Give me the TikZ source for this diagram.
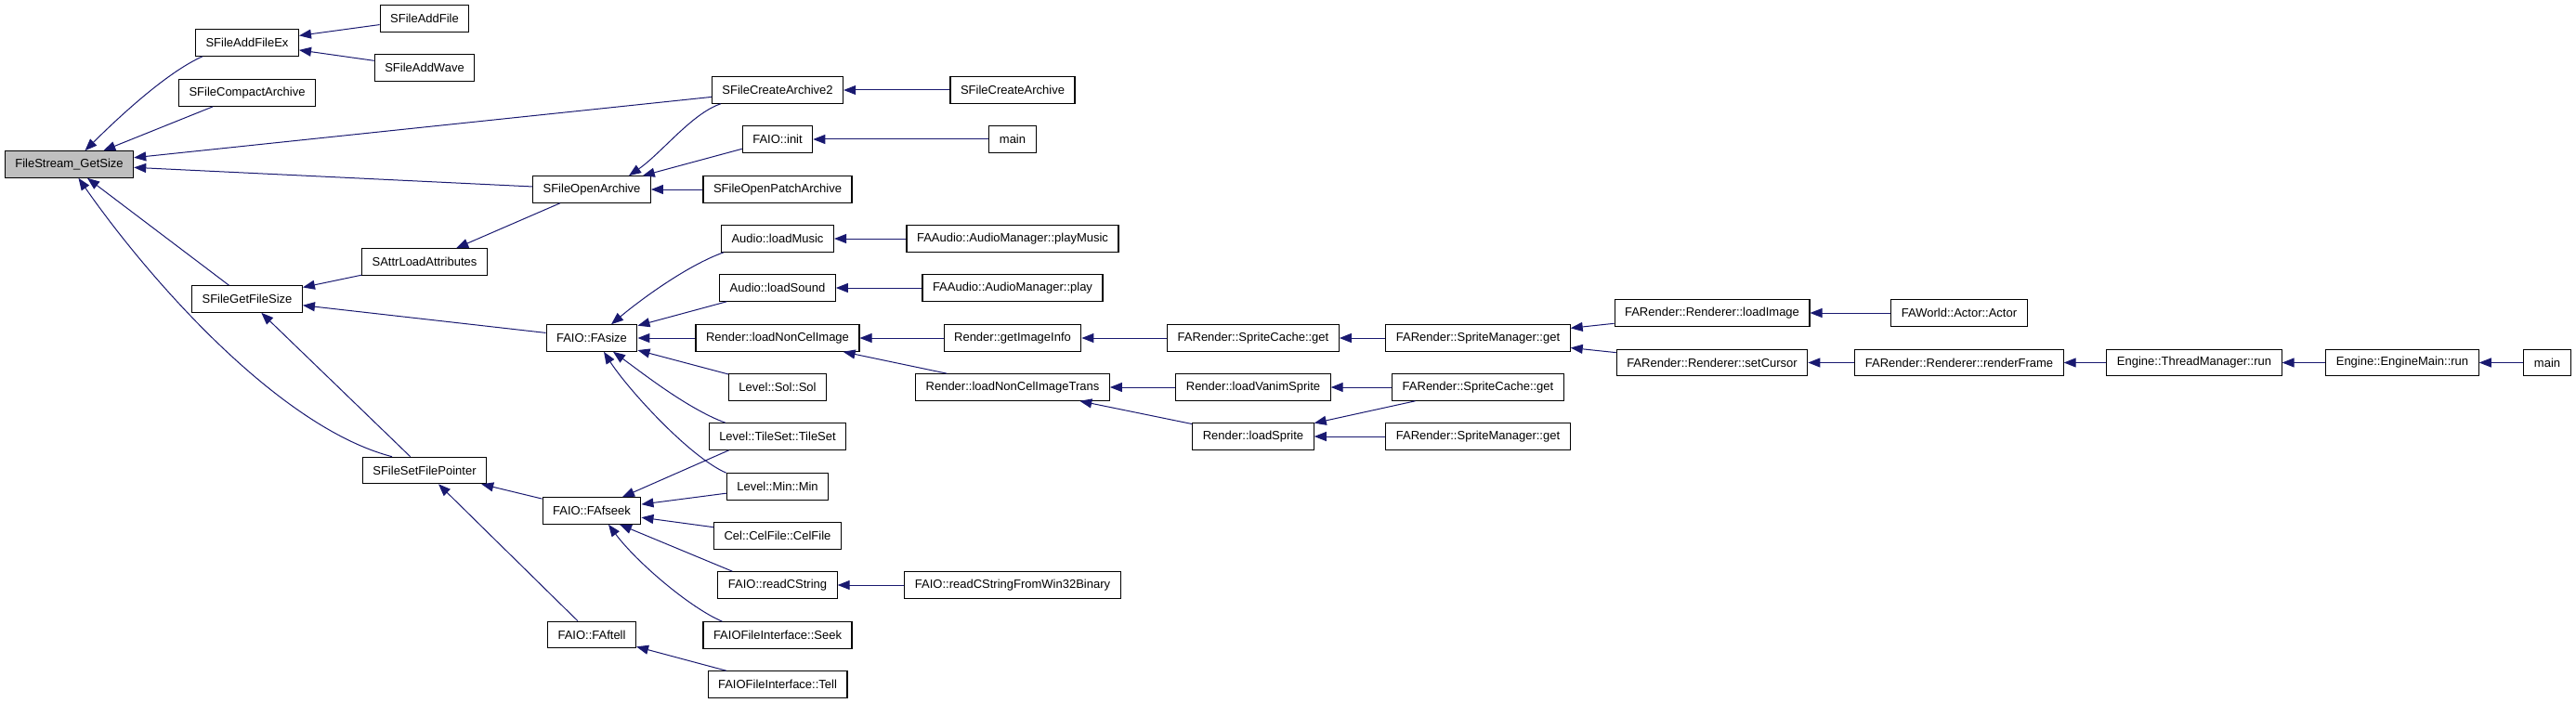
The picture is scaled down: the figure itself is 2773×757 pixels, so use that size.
\documentclass[tikz,border=0pt]{standalone}
\usepackage{fontspec}
\setmainfont{Liberation Sans}
\usetikzlibrary{arrows.meta}
\definecolor{edgeblue}{HTML}{191970}
\definecolor{rootgray}{HTML}{BFBFBF}

\begin{document}
\begin{tikzpicture}[
  x=1pt, y=-1pt,
  fn/.style={rectangle, draw=black, line width=1.1pt, fill=white, inner xsep=11pt, inner ysep=0pt,
             minimum height=28.5pt, font=\fontsize{13}{15}\selectfont},
  root/.style={fn, fill=rootgray},
  link/.style={->, draw=edgeblue, line width=1pt},
  >={Triangle[length=13pt,width=10pt]}
]
\useasboundingbox (0,0) rectangle (2773,757);

% Root
\node[root] (fs) at (74.5,177) {FileStream\_GetSize};

% Column 1
\node[fn] (addex) at (266,46) {SFileAddFileEx};
\node[fn] (compact) at (266,100) {SFileCompactArchive};
\node[fn] (getsize) at (266,322) {SFileGetFileSize};

% Column 2
\node[fn] (addfile) at (457,20) {SFileAddFile};
\node[fn] (addwave) at (457,73) {SFileAddWave};
\node[fn] (attr) at (457,282) {SAttrLoadAttributes};
\node[fn] (sfp) at (457,506.5) {SFileSetFilePointer};

% Column 3
\node[fn] (opa) at (637,204) {SFileOpenArchive};
\node[fn] (fasize) at (637,364) {FAIO::FAsize};
\node[fn] (fafseek) at (637,550) {FAIO::FAfseek};
\node[fn] (faftell) at (637,683.5) {FAIO::FAftell};

% Column 4
\node[fn] (ca2) at (837,97) {SFileCreateArchive2};
\node[fn] (init) at (837,150) {FAIO::init};
\node[fn] (patch) at (837,204) {SFileOpenPatchArchive};
\node[fn] (lmusic) at (837,257) {Audio::loadMusic};
\node[fn] (lsound) at (837,310) {Audio::loadSound};
\node[fn] (lnci) at (837,364) {Render::loadNonCelImage};
\node[fn] (sol) at (837,417) {Level::Sol::Sol};
\node[fn] (tileset) at (837,470) {Level::TileSet::TileSet};
\node[fn] (min) at (837,524) {Level::Min::Min};
\node[fn] (celfile) at (837,577) {Cel::CelFile::CelFile};
\node[fn] (readcs) at (837,630) {FAIO::readCString};
\node[fn] (seek) at (837,684) {FAIOFileInterface::Seek};
\node[fn] (tell) at (837,737) {FAIOFileInterface::Tell};

% Column 5
\node[fn] (ca) at (1090,97) {SFileCreateArchive};
\node[fn] (main1) at (1090,150) {main};
\node[fn] (playmusic) at (1090,257) {FAAudio::AudioManager::playMusic};
\node[fn] (play) at (1090,310) {FAAudio::AudioManager::play};
\node[fn] (imginfo) at (1090,364) {Render::getImageInfo};
\node[fn] (lncit) at (1090,417) {Render::loadNonCelImageTrans};
\node[fn] (readw32) at (1090,630) {FAIO::readCStringFromWin32Binary};

% Columns 6 and 7
\node[fn] (scget1) at (1349,364) {FARender::SpriteCache::get};
\node[fn] (vanim) at (1349,417) {Render::loadVanimSprite};
\node[fn] (lsprite) at (1349,470) {Render::loadSprite};
\node[fn] (smget1) at (1591,364) {FARender::SpriteManager::get};
\node[fn] (scget2) at (1591,417) {FARender::SpriteCache::get};
\node[fn] (smget2) at (1591,470) {FARender::SpriteManager::get};

% Render chain
\node[fn] (loadimg) at (1843,337) {FARender::Renderer::loadImage};
\node[fn] (cursor) at (1843,390.5) {FARender::Renderer::setCursor};
\node[fn] (actor) at (2109,337) {FAWorld::Actor::Actor};
\node[fn] (frame) at (2109,390.5) {FARender::Renderer::renderFrame};
\node[fn] (thread) at (2362,390.5) {Engine::ThreadManager::run};
\node[fn] (engmain) at (2586,390.5) {Engine::EngineMain::run};
\node[fn] (main2) at (2742,390.5) {main};

% Callers of FileStream_GetSize
\draw[link] ([xshift=8pt]addex.south west) .. controls (179,78) and (126,128) .. ([xshift=17pt]fs.north);
\draw[link] (compact) -- (fs);
\draw[link] (ca2) -- (fs);
\draw[link] (opa) -- (fs);
\draw[link] (getsize) -- (fs);
\draw[link] ([xshift=-35pt]sfp.north) .. controls (300,460) and (160,300) .. ([xshift=10pt]fs.south);

% Column 1 and 2
\draw[link] (addfile) -- (addex);
\draw[link] (addwave) -- (addex);
\draw[link] (attr) -- (getsize);
\draw[link] (fasize) -- (getsize);
\draw[link] (sfp) -- (getsize);
\draw[link] (opa) -- (attr);
\draw[link] (fafseek) -- (sfp);
\draw[link] (faftell) -- (sfp);

% SFileOpenArchive
\draw[link] ([xshift=10pt]ca2.south west) .. controls (745,122) and (712,165) .. ([xshift=40pt]opa.north);
\draw[link] (init) -- (opa);
\draw[link] (patch) -- (opa);

% FAIO::FAsize
\draw[link] ([xshift=3pt]lmusic.south west) .. controls (739,286) and (688,324) .. ([xshift=21pt]fasize.north);
\draw[link] (lsound) -- (fasize);
\draw[link] (lnci) -- (fasize);
\draw[link] (sol) -- (fasize);
\draw[link] ([xshift=18pt]tileset.north west) .. controls (740,440) and (692,402) .. ([xshift=23pt]fasize.south);
\draw[link] (min.north west) .. controls (742,492) and (675,418) .. ([xshift=13pt]fasize.south);

% FAIO::FAfseek and FAIO::FAftell
\draw[link] ([xshift=22pt]tileset.south west) -- ([xshift=33pt]fafseek.north);
\draw[link] (min) -- (fafseek);
\draw[link] (celfile) -- (fafseek);
\draw[link] ([xshift=16pt]readcs.north west) -- ([xshift=30pt]fafseek.south);
\draw[link] ([xshift=21pt]seek.north west) .. controls (742,654) and (685,605) .. ([xshift=18pt]fafseek.south);
\draw[link] (tell) -- (faftell);

% Column 4 callers
\draw[link] (ca) -- (ca2);
\draw[link] (main1) -- (init);
\draw[link] (playmusic) -- (lmusic);
\draw[link] (play) -- (lsound);
\draw[link] (imginfo) -- (lnci);
\draw[link] (lncit) -- (lnci);
\draw[link] (readw32) -- (readcs);

% Sprite loading
\draw[link] (scget1) -- (imginfo);
\draw[link] (vanim) -- (lncit);
\draw[link] (lsprite) -- (lncit);
\draw[link] (smget1) -- (scget1);
\draw[link] (scget2) -- (vanim);
\draw[link] (scget2) -- (lsprite);
\draw[link] (smget2) -- (lsprite);

% Renderer and engine
\draw[link] (loadimg) -- (smget1);
\draw[link] (cursor) -- (smget1);
\draw[link] (actor) -- (loadimg);
\draw[link] (frame) -- (cursor);
\draw[link] (thread) -- (frame);
\draw[link] (engmain) -- (thread);
\draw[link] (main2) -- (engmain);

\end{tikzpicture}
\end{document}
